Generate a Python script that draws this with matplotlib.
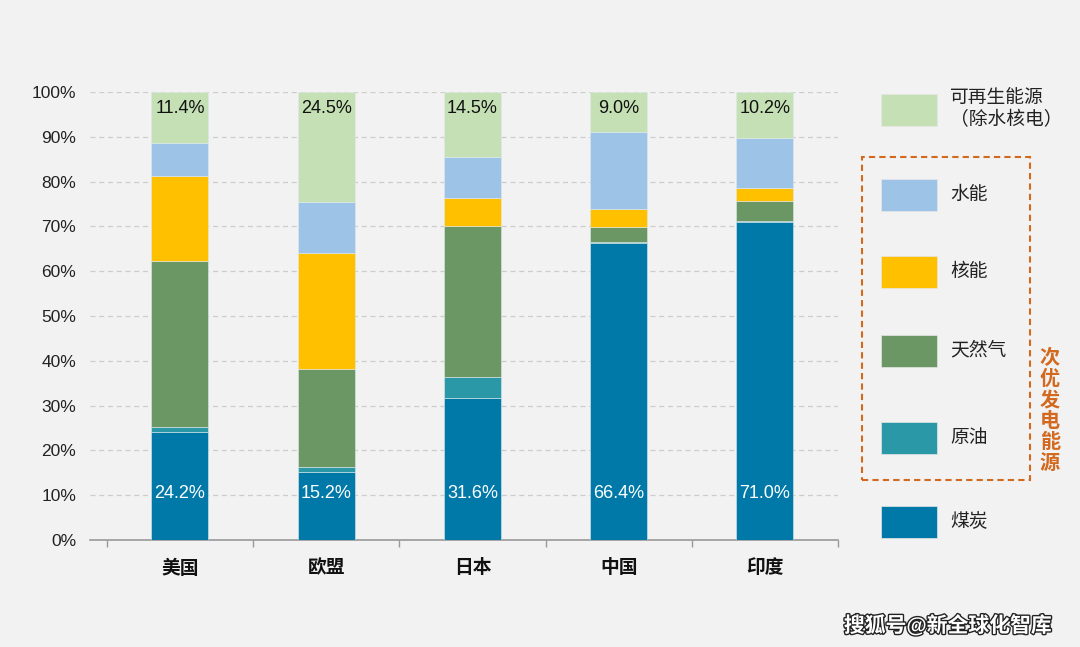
import numpy as np
import matplotlib.pyplot as plt
from matplotlib.patches import Rectangle
import matplotlib.patheffects as pe

plt.rcParams['font.family'] = ['Liberation Sans', 'Noto Sans CJK SC', 'DejaVu Sans']

# Data (share of electricity generation, %)
countries = ["美国", "欧盟", "日本", "中国", "印度"]
coal = [24.2, 15.2, 31.6, 66.4, 71.0]
oil = [1.0, 1.0, 4.8, 0.1, 0.1]
gas = [37.0, 22.0, 33.6, 3.4, 4.5]
nuclear = [19.1, 25.9, 6.4, 4.0, 3.0]
hydro = [7.3, 11.4, 9.1, 17.1, 11.2]
renewable = [11.4, 24.5, 14.5, 9.0, 10.2]

series_names = ["煤炭", "原油", "天然气", "核能", "水能", "可再生能源\n（除水核电）"]
colors = ["#0179A8", "#2A98A6", "#6A9763", "#FFC000", "#9DC3E6", "#C5E0B4"]
series = [coal, oil, gas, nuclear, hydro, renewable]

bg = "#F2F2F2"
fig = plt.figure(figsize=(10.8, 6.47), dpi=100, facecolor=bg)
ax = fig.add_axes([90 / 1080, 1 - 540 / 647, 748 / 1080, 448 / 647])
ax.set_facecolor(bg)

x = np.arange(len(countries))
bottom = np.zeros(len(countries))
for vals, c in zip(series, colors):
    ax.bar(x, vals, width=0.39, bottom=bottom, color=c,
           edgecolor="#dfe9ef", linewidth=0.4, zorder=3)
    bottom += np.array(vals)

# Value labels
for i in range(len(countries)):
    ax.text(x[i], 10.3, f"{coal[i]:.1f}%", ha="center", va="center",
            color="white", fontsize=13, zorder=4)
    ax.text(x[i], 96.3, f"{renewable[i]:.1f}%", ha="center", va="center",
            color="#111111", fontsize=13, zorder=4)

ax.set_xlim(-0.615, 4.5)
ax.set_ylim(0, 100)
ax.set_yticks(np.arange(0, 101, 10))
ax.set_yticklabels([f"{v}%" for v in range(0, 101, 10)], fontsize=12.5, color="#222222")
ax.set_xticks(x)
ax.set_xticklabels(countries, fontsize=13.5, fontweight="bold", color="#111111")
ax.set_xticks(np.arange(-0.5, 4.6, 1), minor=True)
ax.tick_params(axis="x", which="major", length=0, pad=14)
ax.tick_params(axis="x", which="minor", length=5, color="#999999", width=1)
ax.tick_params(axis="y", length=0, pad=10)

ax.yaxis.grid(True, linestyle=(0, (4, 3)), color="#cccccc", linewidth=0.9, zorder=0)
ax.set_axisbelow(True)
for s in ["top", "right", "left"]:
    ax.spines[s].set_visible(False)
ax.spines["bottom"].set_color("#999999")
ax.spines["bottom"].set_linewidth(1.2)

# Legend (manual layout)
leg_y = [110, 195, 272, 351, 438, 522]  # centres in pixels, from top
order = [5, 4, 3, 2, 1, 0]
for yy, k in zip(leg_y, order):
    fig.add_artist(Rectangle((881 / 1080, 1 - (yy + 16) / 647), 56 / 1080, 32 / 647,
                             transform=fig.transFigure, facecolor=colors[k],
                             edgecolor="#e6e6e6", linewidth=0.5))
    fig.text(950 / 1080, 1 - yy / 647, series_names[k], ha="left", va="center",
             fontsize=13.5, color="#222222", linespacing=1.3)

orange = "#D2691E"
fig.add_artist(Rectangle((862 / 1080, 1 - 480 / 647), 168 / 1080, 323 / 647,
                         transform=fig.transFigure, facecolor="none",
                         edgecolor=orange, linewidth=1.5, linestyle=(0, (3, 2))))
fig.text(1050 / 1080, 1 - 411 / 647, "\n".join("次优发电能源"), ha="center", va="center",
         fontsize=14.5, fontweight="bold", color=orange, linespacing=1.12)

fig.text(948 / 1080, 1 - 625 / 647, "搜狐号@新全球化智库", ha="center", va="center",
         fontsize=15, fontweight="bold", color="white",
         path_effects=[pe.withStroke(linewidth=2, foreground="#222222")])

fig.savefig("out.png", dpi=100, facecolor=bg)
